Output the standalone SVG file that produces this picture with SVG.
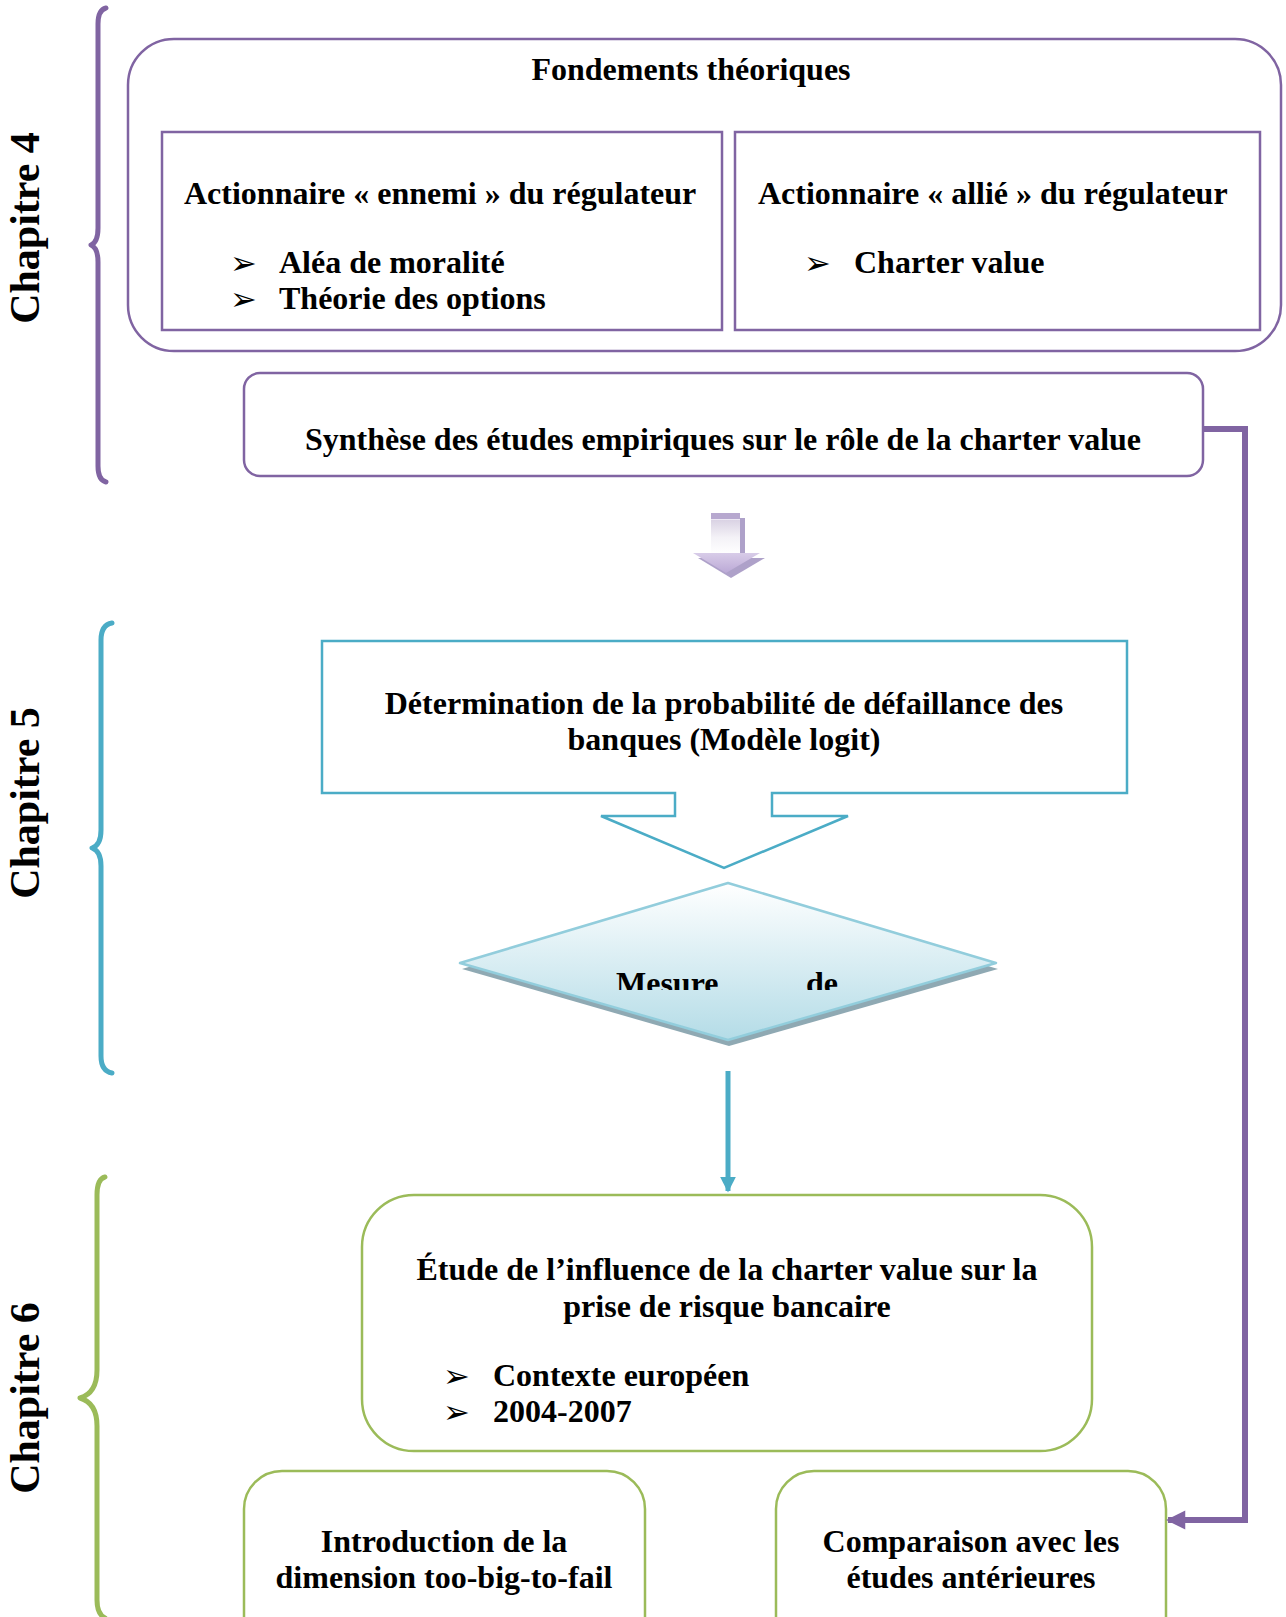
<svg xmlns="http://www.w3.org/2000/svg" width="1286" height="1617" viewBox="0 0 1286 1617">
<style>
.t{font-family:"Liberation Serif","Times New Roman",serif;font-weight:bold;font-size:32px;fill:#000}
.c{text-anchor:middle}
.ch{font-family:"Liberation Serif","Times New Roman",serif;font-weight:bold;font-size:42px;text-anchor:middle;fill:#000}
.b{font-family:"DejaVu Sans",sans-serif;font-size:32px;fill:#000}
.pu{fill:none;stroke:#8064a2;stroke-width:2.5}
.bl{fill:none;stroke:#4bacc6;stroke-width:2.5}
.gr{fill:none;stroke:#9bbb59;stroke-width:2.5}
.brace{fill:none;stroke-width:5;stroke-linecap:round;stroke-linejoin:round}
</style>
<defs>
<linearGradient id="dg" x1="0" y1="0" x2="0" y2="1">
<stop offset="0" stop-color="#ffffff"/>
<stop offset="1" stop-color="#b4dce7"/>
</linearGradient>
<linearGradient id="ag" x1="0" y1="0" x2="0" y2="1">
<stop offset="0" stop-color="#cfc6dc"/>
<stop offset="0.6" stop-color="#f4f2f7"/>
<stop offset="1" stop-color="#ffffff"/>
</linearGradient>
<linearGradient id="ah" x1="0" y1="0" x2="0" y2="1">
<stop offset="0" stop-color="#d8cce8"/>
<stop offset="1" stop-color="#bba9d6"/>
</linearGradient>
<clipPath id="mc"><rect x="440" y="880" width="580" height="110"/></clipPath>
<marker id="pa" viewBox="0 0 10 10" refX="9" refY="5" markerWidth="3.4" markerHeight="3.2" orient="auto" markerUnits="strokeWidth">
<path d="M0,0 L10,5 L0,10 z" fill="#8064a2"/>
</marker>
<marker id="ba" viewBox="0 0 10 10" refX="9" refY="5" markerWidth="3.2" markerHeight="3.2" orient="auto" markerUnits="strokeWidth">
<path d="M0,0 L10,5 L0,10 z" fill="#4bacc6"/>
</marker>
</defs>

<g id="chapitre4">
<path class="brace" stroke="#8064a2" d="M106,8 Q98,10 98,24 L98,228 Q98,242 91,245 Q98,248 98,262 L98,466 Q98,480 106,482"/>
<text class="ch" transform="translate(39,228) rotate(-90)">Chapitre 4</text>
</g>
<g id="chapitre5">
<path class="brace" stroke="#4bacc6" d="M112,623 Q101,625 101,640 L101,830 Q101,845 92,848 Q101,851 101,866 L101,1056 Q101,1071 112,1073"/>
<text class="ch" transform="translate(39,803) rotate(-90)">Chapitre 5</text>
</g>
<g id="chapitre6">
<path class="brace" stroke="#9bbb59" d="M105,1177 Q97,1179 97,1195 L97,1370 Q97,1393 80,1398 Q97,1403 97,1426 L97,1600 Q97,1614 105,1618"/>
<text class="ch" transform="translate(39,1398) rotate(-90)">Chapitre 6</text>
</g>

<g id="fondements">
<rect class="pu" x="128" y="39" width="1153" height="312" rx="46" ry="46"/>
<text class="t c" x="691" y="80">Fondements théoriques</text>
</g>
<g id="ennemi">
<rect class="pu" x="162" y="132" width="560" height="198"/>
<text class="t" x="184" y="204">Actionnaire « ennemi » du régulateur</text>
<text class="b" x="230" y="274">➢</text>
<text class="t" x="279" y="273">Aléa de moralité</text>
<text class="b" x="230" y="310">➢</text>
<text class="t" x="279" y="309">Théorie des options</text>
</g>
<g id="allie">
<rect class="pu" x="735" y="132" width="525" height="198"/>
<text class="t" x="758" y="204">Actionnaire « allié » du régulateur</text>
<text class="b" x="804" y="274">➢</text>
<text class="t" x="854" y="273">Charter value</text>
</g>
<g id="synthese">
<rect class="pu" x="244" y="373" width="959" height="103" rx="16" ry="16"/>
<text class="t c" x="723" y="450">Synthèse des études empiriques sur le rôle de la charter value</text>
</g>

<g id="fleche-haut">
<rect x="716" y="518" width="29" height="38" fill="#a090c0" opacity="0.85"/>
<polygon points="698,558 765,558 731,578" fill="#a090c0" opacity="0.85"/>
<rect x="711" y="513" width="29" height="41" fill="url(#ag)"/>
<rect x="711" y="513" width="29" height="6" fill="#b7a8cf"/>
<line x1="711" y1="519.5" x2="740" y2="519.5" stroke="#ede8f4" stroke-width="1"/>
<polygon points="693,553 760,553 726,573" fill="url(#ah)"/>
</g>

<g id="determination">
<path class="bl" d="M322,641 L1127,641 L1127,793 L772,793 L772,816 L848,816 L724,868 L601,816 L675,816 L675,793 L322,793 Z"/>
<text class="t c" x="724" y="714">Détermination de la probabilité de défaillance des</text>
<text class="t c" x="724" y="750">banques (Modèle logit)</text>
</g>

<g id="mesure">
<polygon points="729,889 998,969 729,1046 462,969" fill="#8fa9b3"/>
<polygon points="728,883 996,963 728,1040 460,963" fill="url(#dg)" stroke="#92cddc" stroke-width="2.5" stroke-linejoin="round"/>
<g clip-path="url(#mc)">
<text class="t" x="616" y="994">Mesure</text>
<text class="t" x="806" y="994">de</text>
</g>
</g>

<g id="etude">
<rect class="gr" x="362" y="1195" width="730" height="256" rx="52" ry="52"/>
<text class="t c" x="727" y="1280">Étude de l’influence de la charter value sur la</text>
<text class="t c" x="727" y="1317">prise de risque bancaire</text>
<text class="b" x="443" y="1387">➢</text>
<text class="t" x="493" y="1386">Contexte européen</text>
<text class="b" x="443" y="1423">➢</text>
<text class="t" x="493" y="1422">2004-2007</text>
</g>
<g id="toobig">
<rect class="gr" x="244" y="1471" width="401" height="190" rx="38" ry="38"/>
<text class="t c" x="444" y="1552">Introduction de la</text>
<text class="t c" x="444" y="1588">dimension too-big-to-fail</text>
</g>
<g id="comparaison">
<rect class="gr" x="776" y="1471" width="390" height="190" rx="38" ry="38"/>
<text class="t c" x="971" y="1552">Comparaison avec les</text>
<text class="t c" x="971" y="1588">études antérieures</text>
</g>

<g id="connecteurs">
<polyline points="1203,429 1245,429 1245,1520 1168,1520" fill="none" stroke="#8064a2" stroke-width="6" stroke-linejoin="miter" marker-end="url(#pa)"/>
<line x1="728" y1="1071" x2="728" y2="1191" stroke="#4bacc6" stroke-width="5" marker-end="url(#ba)"/>
</g>
</svg>
